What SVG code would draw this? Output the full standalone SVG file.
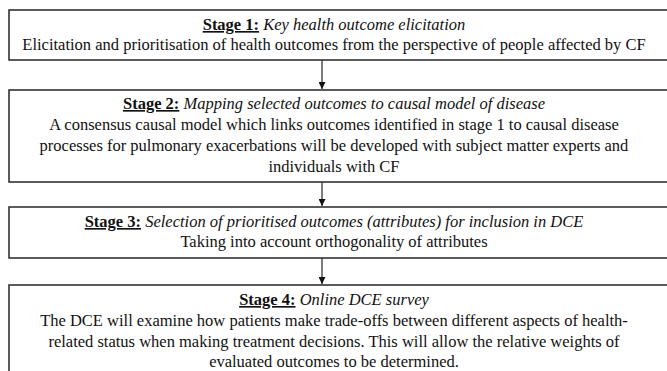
<svg xmlns="http://www.w3.org/2000/svg" width="667" height="371" viewBox="0 0 667 371">
<style>
.box{fill:#fff;stroke:#333;stroke-width:1.6}
text{font-family:'Liberation Serif','Times New Roman',Times,serif;font-size:16.5px;fill:#111;text-anchor:middle}
.h{font-weight:bold;text-decoration:underline}
.i{font-style:italic}
.conn{stroke:#111;stroke-width:1.1;fill:none}
</style>
<defs>
<marker id="ah" viewBox="0 0 10 10" refX="10" refY="5" markerWidth="7" markerHeight="7" markerUnits="userSpaceOnUse" orient="auto">
<path d="M0,0 L10,5 L0,10 z" fill="#111"/>
</marker>
</defs>
<rect width="667" height="371" fill="#fff"/>
<g id="connectors">
<line class="conn" x1="322" y1="60" x2="322" y2="89" marker-end="url(#ah)"/>
<line class="conn" x1="322" y1="182" x2="322" y2="206" marker-end="url(#ah)"/>
<line class="conn" x1="322" y1="258" x2="322" y2="284" marker-end="url(#ah)"/>
</g>
<g id="stage1">
<rect class="box" x="9" y="10" width="670" height="50"/>
<text x="334" y="30"><tspan class="h">Stage 1:</tspan> <tspan class="i">Key health outcome elicitation</tspan></text>
<text x="334" y="50">Elicitation and prioritisation of health outcomes from the perspective of people affected by CF</text>
</g>
<g id="stage2">
<rect class="box" x="9" y="90" width="670" height="92"/>
<text x="334" y="109"><tspan class="h">Stage 2:</tspan> <tspan class="i">Mapping selected outcomes to causal model of disease</tspan></text>
<text x="334" y="130">A consensus causal model which links outcomes identified in stage 1 to causal disease</text>
<text x="334" y="151">processes for pulmonary exacerbations will be developed with subject matter experts and</text>
<text x="334" y="172">individuals with CF</text>
</g>
<g id="stage3">
<rect class="box" x="9" y="207" width="670" height="51"/>
<text x="334" y="227"><tspan class="h">Stage 3:</tspan> <tspan class="i">Selection of prioritised outcomes (attributes) for inclusion in DCE</tspan></text>
<text x="334" y="247">Taking into account orthogonality of attributes</text>
</g>
<g id="stage4">
<rect class="box" x="9" y="285" width="670" height="100"/>
<text x="334" y="305"><tspan class="h">Stage 4:</tspan> <tspan class="i">Online DCE survey</tspan></text>
<text x="334" y="326">The DCE will examine how patients make trade-offs between different aspects of health-</text>
<text x="334" y="347">related status when making treatment decisions. This will allow the relative weights of</text>
<text x="334" y="367">evaluated outcomes to be determined.</text>
</g>
</svg>
